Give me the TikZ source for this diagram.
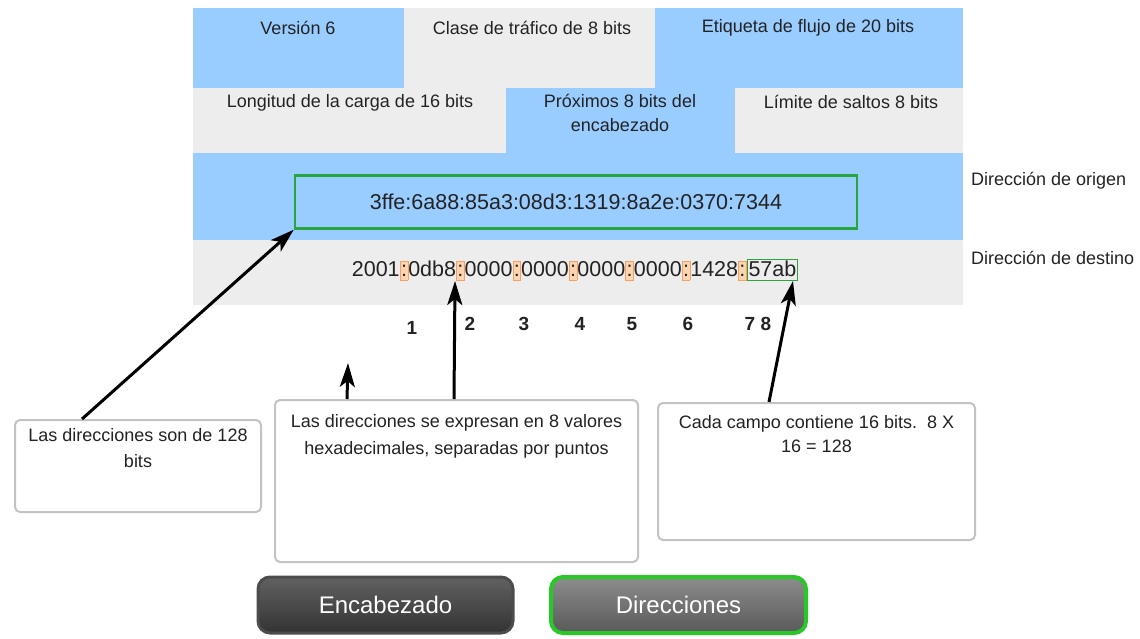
\documentclass[tikz,border=0pt]{standalone}
\usepackage{fontspec}
\setmainfont{Liberation Sans}
\usetikzlibrary{arrows.meta,calc}
\definecolor{hblue}{RGB}{153,204,255}
\definecolor{hgray}{RGB}{237,237,237}
\definecolor{gbox}{RGB}{40,165,60}
\definecolor{obord}{RGB}{245,160,100}
\definecolor{ofill}{RGB}{252,212,175}
\definecolor{txt}{RGB}{35,35,35}
\definecolor{cbord}{RGB}{195,195,195}
\definecolor{bgreen}{RGB}{40,200,40}
\newcommand\oc{{\setlength\fboxsep{0.6pt}\setlength\fboxrule{0.7pt}\fcolorbox{obord}{ofill}{\rule[-3pt]{0pt}{17pt}:}}}
\newcommand\gab{{\setlength\fboxsep{1pt}\setlength\fboxrule{0.8pt}\fcolorbox{gbox}{hgray}{\rule[-3pt]{0pt}{17pt}57ab}}}
\tikzset{
  lbl/.style={font=\fontsize{18}{22}\selectfont, text=txt, inner sep=0pt, align=center},
  addr/.style={font=\fontsize{21.5}{24}\selectfont, text=txt, inner sep=0pt},
  num/.style={font=\fontsize{19}{21}\selectfont\bfseries, text=txt, inner sep=0pt},
  callout/.style={draw=cbord, line width=2pt, fill=white, rounded corners=5pt},
  arr/.style={line width=3pt, -{Stealth[length=24pt,width=15pt,inset=6pt]}},
  btn/.style={rounded corners=12pt, font=\fontsize{24}{26}\selectfont, text=white, minimum width=255pt, minimum height=56pt, inner sep=0pt}
}
\begin{document}
\begin{tikzpicture}[x=1pt,y=-1pt]
\useasboundingbox (0,0) rectangle (1140,638);
% header background
\fill[hgray] (193,8) rectangle (963,305);
\fill[hblue] (193,8) rectangle (404,88);
\fill[hblue] (655,8) rectangle (963,88);
\fill[hblue] (506,88) rectangle (735,153);
\fill[hblue] (193,153) rectangle (963,240);
% header labels
\node[lbl] (ver) at (298,28) {Versión 6};
\node[lbl] (cls) at (532,28) {Clase de tráfico de 8 bits};
\node[lbl] (eti) at (808,28) {Etiqueta de flujo de 20 bits};
\node[lbl] (lon) at (350,103) {Longitud de la carga de 16 bits};
\node[lbl] (prx) at (620,113) {Próximos 8 bits del\\[2pt]encabezado};
\node[lbl] (lim) at (851,102) {Límite de saltos 8 bits};
% source address
\node[draw=gbox, line width=2.5pt, minimum width=562pt, minimum height=53pt, inner sep=0pt] (src) at (576,202) {};
\node[addr] (srct) at (src.center) {3ffe:6a88:85a3:08d3:1319:8a2e:0370:7344};
% destination address
\node[addr] (dst) at (575,270) {2001\oc0db8\oc0000\oc0000\oc0000\oc0000\oc1428\oc\gab};
% side labels
\node[lbl, anchor=west] (orig) at (971,181) {Dirección de origen};
\node[lbl, anchor=west] (dest) at (971,258) {Dirección de destino};
% numbers
\node[num] (n1) at (412,328) {1};
\node[num] (n2) at (470,324) {2};
\node[num] (n3) at (524,324) {3};
\node[num] (n4) at (580,324) {4};
\node[num] (n5) at (632,324) {5};
\node[num] (n6) at (688,324) {6};
\node[num] (n7) at (750,324) {7};
\node[num] (n8) at (766,324) {8};
% callouts
\node[callout, minimum width=246pt, minimum height=92pt] (c1) at (138,466) {};
\node[lbl, anchor=north] (c1t) at ($(c1.north)+(0,9)$) {Las direcciones son de 128\\[4pt]bits};
\node[callout, minimum width=363pt, minimum height=162pt] (c2) at (456.5,481) {};
\node[lbl, anchor=north] (c2t) at ($(c2.north)+(0,15)$) {Las direcciones se expresan en 8 valores\\[5pt]hexadecimales, separadas por puntos};
\node[callout, minimum width=317pt, minimum height=137pt] (c3) at (816.5,471.5) {};
\node[lbl, anchor=north] (c3t) at ($(c3.north)+(0,13)$) {Cada campo contiene 16 bits.\ \ 8 X\\[2pt]16 = 128};
% arrow targets
\coordinate (t2) at (348,363);
\coordinate (t3) at (455,281);
\coordinate (t4) at (793,281);
% arrows
\draw[arr] ($(c1.north west)+(68,0)$) -- (src.south west);
\draw[arr] ($(c2.north west)+(73,0)$) -- (t2);
\draw[arr] ($(c2.north west)+(180,0)$) -- (t3);
\draw[arr] ($(c3.north west)+(112,0)$) -- (t4);
% buttons
\node[btn, draw=black!70, line width=3pt, top color=black!62, bottom color=black!80] (b1) at (385.5,605) {Encabezado};
\node[btn, draw=bgreen, line width=4pt, top color=black!45, bottom color=black!65] (b2) at (678.5,605) {Direcciones};
\end{tikzpicture}
\end{document}
